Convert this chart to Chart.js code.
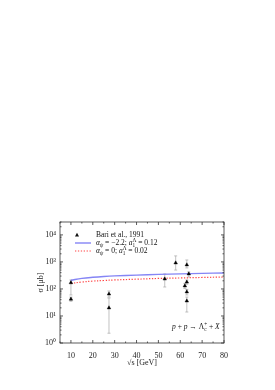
<!DOCTYPE html>
<html>
<head>
<meta charset="utf-8">
<script src="https://cdn.jsdelivr.net/npm/chart.js@4.4.0/dist/chart.umd.min.js"></script>
<style>
  html, body { margin: 0; padding: 0; background: #fff; }
  #wrap { width: 275px; height: 390px; }
</style>
</head>
<body>
<div id="wrap"><canvas id="sigma"></canvas></div>
<script>
// Bari et al., 1991 points: sqrt(s) [GeV], sigma [mub], error bar ends
const bariX    = [10,  10, 27.4, 27.4, 52.9, 57.9, 63,  63.9, 63,  62.1, 63,  63];
const bariY    = [170, 42, 65,   20,   234,  920,  780, 360,  180, 130,  78,  36];
const bariLow  = [60,  35, 50,   2.3,  118,  500,  600, 277,  150, 105,  60,  14];
const bariHigh = [215, 50, 84,   46,   360,  1670, 1180, 427, 215, 160,  96,  50];

// model curves
const curveX    = [10,  15,  20,  25,  30,  40,  50,  60,  70,  80];
const curveBlue = [210, 245, 270, 290, 305, 325, 345, 362, 377, 390];
const curveRed  = [160, 180, 195, 205, 215, 230, 245, 255, 266, 277];

const xTicks = [10, 20, 30, 40, 50, 60, 70, 80];
const yTicks = [1, 10, 100, 1000, 10000];

const FONT = '"Liberation Serif", "Times New Roman", serif';
const sup = ['⁰', '¹', '²', '³', '⁴', '⁵'];

function drawRich(ctx, x, y, parts, size) {
  parts.forEach(function(p) {
    if (p.up !== undefined) {
      ctx.font = (size * 0.7) + 'px ' + FONT;
      const w1 = ctx.measureText(p.up).width;
      const w2 = ctx.measureText(p.dn).width;
      ctx.fillText(p.up, x, y - size * 0.38);
      ctx.fillText(p.dn, x, y + size * 0.3);
      x += Math.max(w1, w2);
      return;
    }
    const s = (p.sub || p.sup) ? size * 0.7 : size;
    ctx.font = (p.it ? 'italic ' : '') + s + 'px ' + FONT;
    const dy = p.sub ? size * 0.3 : (p.sup ? -size * 0.38 : 0);
    ctx.fillText(p.t, x, y + dy);
    x += ctx.measureText(p.t).width;
  });
  return x;
}

const errorBars = {
  id: 'errorBars',
  beforeDatasetsDraw(chart) {
    const {ctx, scales: {x, y}} = chart;
    ctx.save();
    ctx.strokeStyle = '#a8a8a8';
    ctx.lineWidth = 0.7;
    for (let i = 0; i < bariX.length; i++) {
      const px = x.getPixelForValue(bariX[i]);
      const y1 = y.getPixelForValue(bariLow[i]);
      const y2 = y.getPixelForValue(bariHigh[i]);
      ctx.beginPath();
      ctx.moveTo(px, y1); ctx.lineTo(px, y2);
      ctx.moveTo(px - 1.5, y1); ctx.lineTo(px + 1.5, y1);
      ctx.moveTo(px - 1.5, y2); ctx.lineTo(px + 1.5, y2);
      ctx.stroke();
    }
    ctx.restore();
  }
};

const frameTicks = {
  id: 'frameTicks',
  afterDatasetsDraw(chart) {
    const {ctx, chartArea: a, scales: {x, y}} = chart;
    ctx.save();
    ctx.strokeStyle = '#333';
    ctx.lineWidth = 0.8;
    ctx.strokeRect(a.left, a.top, a.right - a.left, a.bottom - a.top);
    ctx.beginPath();
    for (let v = 5; v <= 80; v += 5) {
      const px = x.getPixelForValue(v);
      const len = v % 10 === 0 ? 3 : 1.5;
      ctx.moveTo(px, a.bottom); ctx.lineTo(px, a.bottom - len);
      ctx.moveTo(px, a.top); ctx.lineTo(px, a.top + len);
    }
    for (let d = 1; d <= 10000; d *= 10) {
      for (let m = 1; m <= 9; m++) {
        const v = m * d;
        if (v > 30000) break;
        const py = y.getPixelForValue(v);
        const len = m === 1 ? 3 : 1.5;
        ctx.moveTo(a.left, py); ctx.lineTo(a.left + len, py);
        ctx.moveTo(a.right, py); ctx.lineTo(a.right - len, py);
      }
    }
    ctx.stroke();
    ctx.restore();
  }
};

const legendText = {
  id: 'legendText',
  afterDraw(chart) {
    const {ctx, chartArea: a} = chart;
    ctx.save();
    ctx.fillStyle = '#111';
    ctx.textBaseline = 'middle';
    const tx = a.left + 36;
    const r1 = a.top + 13, r2 = a.top + 21, r3 = a.top + 29;
    // marker
    ctx.beginPath();
    ctx.moveTo(a.left + 17, r1 - 2.2);
    ctx.lineTo(a.left + 19, r1 + 1.4);
    ctx.lineTo(a.left + 15, r1 + 1.4);
    ctx.closePath();
    ctx.fill();
    drawRich(ctx, tx, r1, [{t: 'Bari et al., 1991'}], 7.5);
    // blue line
    ctx.strokeStyle = '#8585f5';
    ctx.lineWidth = 1.4;
    ctx.beginPath(); ctx.moveTo(a.left + 15, r2); ctx.lineTo(a.left + 31, r2); ctx.stroke();
    drawRich(ctx, tx, r2, [
      {t: 'α', it: true}, {t: 'ψ', sub: true, it: true}, {t: ' = −2.2; '},
      {t: 'a', it: true}, {up: 'Λ', dn: '1'}, {t: ' = 0.12'}
    ], 7.5);
    // red dotted line
    ctx.strokeStyle = '#ff4444';
    ctx.lineWidth = 1.2;
    ctx.setLineDash([1.3, 1.6]);
    ctx.beginPath(); ctx.moveTo(a.left + 15, r3); ctx.lineTo(a.left + 31, r3); ctx.stroke();
    ctx.setLineDash([]);
    drawRich(ctx, tx, r3, [
      {t: 'α', it: true}, {t: 'ψ', sub: true, it: true}, {t: ' = 0; '},
      {t: 'a', it: true}, {up: 'Λ', dn: '1'}, {t: ' = 0.02'}
    ], 7.5);
    // reaction
    drawRich(ctx, a.right - 52, a.bottom - 16, [
      {t: 'p', it: true}, {t: ' + '}, {t: 'p', it: true}, {t: ' → Λ'},
      {up: '+', dn: 'c'}, {t: ' + '}, {t: 'X', it: true}
    ], 7.5);
    ctx.restore();
  }
};

const ctx = document.getElementById('sigma').getContext('2d');
const tickFont = {family: FONT, size: 8};

new Chart(ctx, {
  type: 'scatter',
  data: {
    datasets: [{
      label: 'Bari et al., 1991',
      data: bariX.map((v, i) => ({x: v, y: bariY[i]})),
      pointStyle: 'triangle',
      pointRadius: 2.1,
      backgroundColor: '#000',
      borderColor: '#000',
      borderWidth: 0.4
    }, {
      type: 'line',
      label: 'blue',
      data: curveX.map((v, i) => ({x: v, y: curveBlue[i]})),
      borderColor: '#8585f5',
      borderWidth: 1.4,
      pointRadius: 0,
      tension: 0.4,
      fill: false
    }, {
      type: 'line',
      label: 'red',
      data: curveX.map((v, i) => ({x: v, y: curveRed[i]})),
      borderColor: '#ff4444',
      borderWidth: 1.2,
      borderDash: [1.3, 1.6],
      pointRadius: 0,
      tension: 0.4,
      fill: false
    }]
  },
  options: {
    responsive: true,
    maintainAspectRatio: false,
    animation: false,
    layout: {padding: {top: 222, left: 36, right: 51, bottom: 22}},
    plugins: {
      legend: {display: false},
      tooltip: {enabled: false}
    },
    scales: {
      x: {
        type: 'linear',
        min: 5,
        max: 80,
        afterBuildTicks: s => { s.ticks = xTicks.map(v => ({value: v})); },
        afterFit: s => { s.height = 25; },
        grid: {display: false, drawTicks: false},
        border: {display: false},
        ticks: {padding: 8, font: tickFont, color: '#222', maxRotation: 0},
        title: {display: true, text: '√s [GeV]', padding: 0, font: tickFont, color: '#222'}
      },
      y: {
        type: 'logarithmic',
        min: 1,
        max: 30000,
        afterBuildTicks: s => { s.ticks = yTicks.map(v => ({value: v})); },
        afterFit: s => { s.width = 24; },
        grid: {display: false, drawTicks: false},
        border: {display: false},
        ticks: {
          padding: 4,
          font: tickFont,
          color: '#222',
          callback: v => '10' + sup[Math.round(Math.log10(v))]
        },
        title: {display: true, text: 'σ [μb]', padding: 0, font: tickFont, color: '#222'}
      }
    }
  },
  plugins: [errorBars, frameTicks, legendText]
});
</script>
</body>
</html>
